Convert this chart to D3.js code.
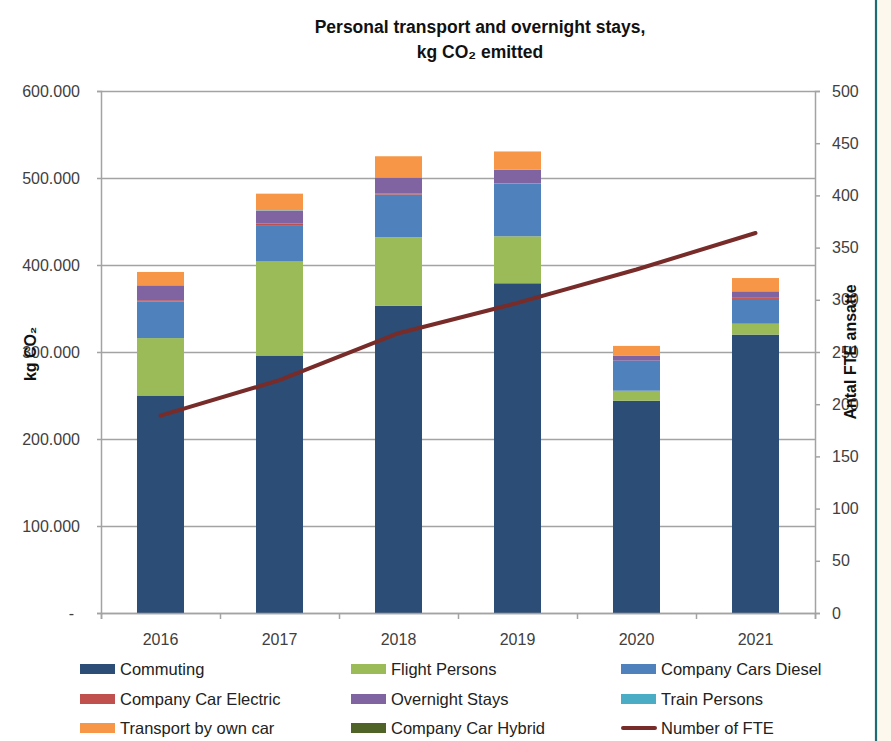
<!DOCTYPE html>
<meta charset="utf-8">
<style>
body{ margin:0; }
text{
	font-family:"Liberation Sans", Arial, sans-serif;
	fill:#404040;
}
.grid line{
	stroke:#a3a3a3;
	stroke-width:1.5px;
}
.grid path{ stroke:none; }
.axis path, .axis line{
	stroke:#a3a3a3;
	stroke-width:1.5px;
}
.axis text{
	font-size:16px;
}
.title{
	font-size:17.5px;
	font-weight:bold;
	fill:#111;
	text-anchor:middle;
}
.atitle{
	font-size:16px;
	font-weight:bold;
	fill:#111;
	text-anchor:middle;
}
.legend text{
	font-size:16.5px;
	fill:#222;
}
</style>
<body>
<script src="https://d3js.org/d3.v7.min.js"></script>
<script>

var years = ["2016","2017","2018","2019","2020","2021"];
var commuting = [250000, 296000, 353000, 379000, 244000, 320000];
var flight    = [66000, 108000, 79000, 54000, 11500, 12500];
var diesel    = [42000, 41000, 49000, 60500, 34500, 28500];
var electric  = [1500, 2500, 1000, 500, 0, 2000];
var overnight = [17000, 15000, 18500, 15500, 6000, 6000];
var train     = [500, 500, 500, 500, 0, 1000];
var ownCar    = [15000, 19000, 24000, 20500, 11000, 15000];
var hybrid    = [0, 0, 0, 0, 0, 0];
var fte       = [189, 223, 268, 297, 329, 364];

var leftTicks  = [0,100000,200000,300000,400000,500000,600000];
var rightTicks = [0,50,100,150,200,250,300,350,400,450,500];

var series = [
	{key:"Commuting", values:commuting, color:"#2c4d75"},
	{key:"Flight Persons", values:flight, color:"#9bbb59"},
	{key:"Company Cars Diesel", values:diesel, color:"#4f81bd"},
	{key:"Company Car Electric", values:electric, color:"#c0504d"},
	{key:"Overnight Stays", values:overnight, color:"#8064a2"},
	{key:"Train Persons", values:train, color:"#4bacc6"},
	{key:"Transport by own car", values:ownCar, color:"#f79646"},
	{key:"Company Car Hybrid", values:hybrid, color:"#4f6228"}
];
var lineColor = "#772c2a";

var W = 891, H = 741;
var m = {left:101, right:815, top:91, bottom:613};

var svg = d3.select("body").append("svg").attr("width", W).attr("height", H);
svg.append("rect").attr("width", W).attr("height", H).attr("fill", "#fff");
svg.append("rect").attr("x", 877).attr("width", W-877).attr("height", H).attr("fill", "#fdf8ee");
svg.append("line").attr("x1", 876).attr("x2", 876).attr("y1", 0).attr("y2", H)
	.attr("stroke", "#1e6b74").attr("stroke-width", 2.2);

var x = d3.scaleBand().domain(years).range([m.left, m.right])
	.paddingInner(0.605).paddingOuter(0.3025);
var xEdge = d3.scaleLinear().domain([0, years.length]).range([m.left, m.right]);
var y = d3.scaleLinear().domain([0, 600000]).range([m.bottom, m.top]);
var y2 = d3.scaleLinear().domain([0, 500]).range([m.bottom, m.top]);

var loc = d3.formatLocale({decimal:",", thousands:".", grouping:[3], currency:["",""]});
var fmt = loc.format(",.0f");

// gridlines
svg.append("g").attr("class","grid")
	.attr("transform","translate("+m.left+",0)")
	.call(d3.axisLeft(y).tickValues(leftTicks).tickSize(-(m.right-m.left)).tickFormat(""));

// stacked bars
var table = years.map(function(yr, i){
	var row = {year:yr};
	series.forEach(function(s){ row[s.key] = s.values[i]; });
	return row;
});
var stack = d3.stack().keys(series.map(s=>s.key))(table);

svg.append("g").selectAll("g").data(stack).join("g")
	.attr("fill", (d,i)=>series[i].color)
	.selectAll("rect").data(d=>d).join("rect")
	.attr("x", d=>x(d.data.year))
	.attr("width", x.bandwidth())
	.attr("y", d=>y(d[1]))
	.attr("height", d=>y(d[0])-y(d[1]));

// axes
var gl = svg.append("g").attr("class","axis")
	.attr("transform","translate("+m.left+",0)")
	.call(d3.axisLeft(y).tickValues(leftTicks).tickSize(4).tickPadding(17)
		.tickFormat(d=> d===0 ? "-" : fmt(d)));
gl.selectAll(".tick").filter(d=>d===0).select("text").attr("x", -27);

svg.append("g").attr("class","axis")
	.attr("transform","translate("+m.right+",0)")
	.call(d3.axisRight(y2).tickValues(rightTicks).tickSize(5).tickPadding(12));

svg.append("g").attr("class","axis")
	.attr("transform","translate(0,"+m.bottom+")")
	.call(d3.axisBottom(xEdge).ticks(years.length).tickSize(6).tickFormat(""));

var gx = svg.append("g").attr("class","axis")
	.attr("transform","translate(0,"+m.bottom+")")
	.call(d3.axisBottom(x).tickSize(0).tickPadding(21));
gx.select(".domain").remove();

// FTE line
svg.append("path").datum(fte)
	.attr("fill","none")
	.attr("stroke", lineColor)
	.attr("stroke-width", 4)
	.attr("stroke-linecap","round")
	.attr("stroke-linejoin","round")
	.attr("d", d3.line().x((d,i)=>x(years[i])+x.bandwidth()/2).y(d=>y2(d)));

// titles
svg.append("text").attr("class","title").attr("x", 480).attr("y", 33).text("Personal transport and overnight stays,");
svg.append("text").attr("class","title").attr("x", 480).attr("y", 58).text("kg CO₂ emitted");

svg.append("text").attr("class","atitle")
	.attr("transform","translate(36,354) rotate(-90)")
	.text("kg CO₂");
svg.append("text").attr("class","atitle")
	.attr("transform","translate(856,352) rotate(-90)")
	.text("Antal FTE ansatte");

// legend
var legendItems = series.map(s=>({key:s.key, color:s.color, line:false}));
legendItems.push({key:"Number of FTE", color:lineColor, line:true});
var colX = [80, 351, 621], rowY = [669, 699, 728];

var lg = svg.append("g").attr("class","legend").selectAll("g").data(legendItems).join("g")
	.attr("transform", (d,i)=>"translate("+colX[i%3]+","+rowY[Math.floor(i/3)]+")");
lg.filter(d=>!d.line).append("rect")
	.attr("x",0).attr("y",-5).attr("width",35).attr("height",10).attr("fill", d=>d.color);
lg.filter(d=>d.line).append("line")
	.attr("x1",2).attr("x2",34).attr("y1",0).attr("y2",0)
	.attr("stroke", d=>d.color).attr("stroke-width",4).attr("stroke-linecap","round");
lg.append("text").attr("x",40).attr("dy","0.35em").text(d=>d.key);

</script>
</body>
</html>
